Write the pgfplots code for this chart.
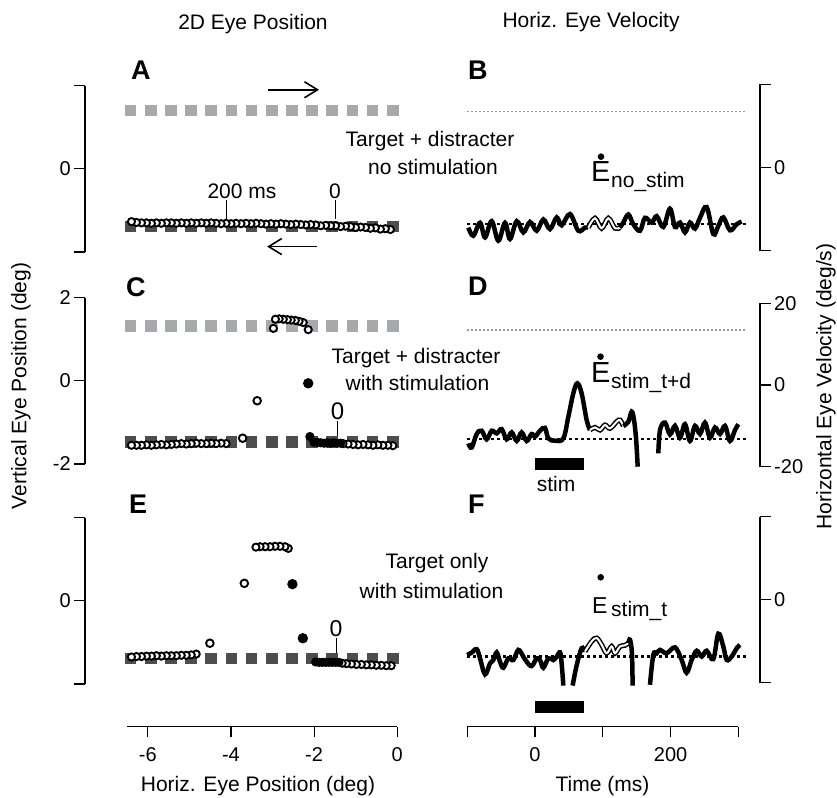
\documentclass[border=0pt]{standalone}
\usepackage{fontspec}
\setmainfont{Liberation Sans}
\usepackage{pgfplots}
\pgfplotsset{compat=1.18}
\usetikzlibrary{arrows.meta}

\definecolor{sqgrey}{HTML}{A7A9AC}
\definecolor{sqdark}{HTML}{4D4D4F}
\definecolor{dotgrey}{HTML}{9A9A9A}

\newcommand{\fs}[1]{\fontsize{#1}{#1}\selectfont}

\pgfplotsset{
 base/.style={scale only axis, clip=false, tick align=outside, major tick length=10.7pt,
   axis line style={line width=1.2pt,-}, tick style={line width=1.2pt, black},
   ticklabel style={font=\fs{20}}},
 posL/.style={base, width=312pt, height=166.4pt, xmin=-7.52, xmax=0, ymin=-2, ymax=2,
   axis y line*=left, axis x line=none, xtick=\empty, ytick={-2,0,2}},
 velR/.style={base, width=292.8pt, xmin=-100, xmax=331.9, ymin=-20, ymax=20,
   axis y line*=right, axis x line=none, xtick=\empty, ytick={-20,0,20}},
 openc/.style={black, only marks, mark=*, mark size=3.6pt, mark options={fill=white, draw=black, line width=1.9pt}},
 fillc/.style={black, only marks, mark=*, mark size=3.6pt, mark options={fill=black, draw=black, line width=1.9pt}},
 sqg/.style={sqgrey, only marks, mark=square*, mark size=5.3pt, mark options={fill=sqgrey, draw=sqgrey, line width=0pt}},
 sqd/.style={sqdark, only marks, mark=square*, mark size=5.3pt, mark options={fill=sqdark, draw=sqdark, line width=0pt}},
 trace/.style={black, line width=4.5pt, smooth, tension=0.6},
 dblo/.style={black, line width=5pt, smooth, tension=0.6},
 dbli/.style={white, line width=2pt, smooth, tension=0.6},
 greydot/.style={dotgrey, line width=1.5pt, dash pattern=on 2pt off 2pt},
 blackdot/.style={black, line width=2.5pt, dash pattern=on 3pt off 3pt},
}

\begin{document}
\begin{tikzpicture}[x=1pt,y=1pt]
\useasboundingbox (0,0) rectangle (837,797);

% ---------------- Panel A ----------------
\begin{axis}[posL, at={(85pt,545pt)}, anchor=south west, yticklabels={,0,}]
\addplot[sqg] coordinates {(-6.42,1.40) (-5.934,1.40) (-5.448,1.40) (-4.962,1.40) (-4.476,1.40) (-3.99,1.40) (-3.504,1.40) (-3.018,1.40) (-2.532,1.40) (-2.046,1.40) (-1.56,1.40) (-1.074,1.40) (-0.588,1.40) (-0.102,1.40)};
\addplot[sqd] coordinates {(-6.42,-1.39) (-5.934,-1.39) (-5.448,-1.39) (-4.962,-1.39) (-4.476,-1.39) (-3.99,-1.39) (-3.504,-1.39) (-3.018,-1.39) (-2.532,-1.39) (-2.046,-1.39) (-1.56,-1.39) (-1.074,-1.39) (-0.588,-1.39) (-0.102,-1.39)};
\addplot[openc] coordinates {(-0.16,-1.46) (-0.28,-1.44) (-0.40,-1.45) (-0.52,-1.42) (-0.64,-1.43) (-0.76,-1.41) (-0.88,-1.40) (-1.00,-1.41) (-1.12,-1.39) (-1.24,-1.38) (-1.36,-1.39) (-1.48,-1.37) (-1.60,-1.37) (-1.72,-1.36) (-1.84,-1.37) (-1.96,-1.35) (-2.08,-1.34) (-2.20,-1.35) (-2.32,-1.34) (-2.44,-1.33) (-2.56,-1.34) (-2.68,-1.33) (-2.80,-1.32) (-2.92,-1.33) (-3.04,-1.32) (-3.16,-1.33) (-3.28,-1.32) (-3.40,-1.31) (-3.52,-1.32) (-3.64,-1.31) (-3.76,-1.32) (-3.88,-1.31) (-4.00,-1.32) (-4.12,-1.31) (-4.24,-1.32) (-4.36,-1.31) (-4.48,-1.30) (-4.60,-1.31) (-4.72,-1.30) (-4.84,-1.31) (-4.96,-1.30) (-5.08,-1.31) (-5.20,-1.30) (-5.32,-1.31) (-5.44,-1.30) (-5.56,-1.30) (-5.68,-1.31) (-5.80,-1.30) (-5.92,-1.31) (-6.04,-1.30) (-6.16,-1.30) (-6.28,-1.29) (-6.40,-1.27)};
\draw[line width=1.6pt, -{Straight Barb[length=13pt,width=16pt,line width=1.6pt]}] (axis cs:-3.11,1.90) -- (axis cs:-1.88,1.90);
\draw[line width=1.6pt, -{Straight Barb[length=13pt,width=16pt,line width=1.6pt]}] (axis cs:-1.93,-1.87) -- (axis cs:-3.13,-1.87);
\draw[line width=1.2pt] (axis cs:-4.10,-0.745) -- (axis cs:-4.10,-1.20);
\draw[line width=1.2pt] (axis cs:-1.49,-0.745) -- (axis cs:-1.49,-1.20);
\end{axis}

% ---------------- Panel C ----------------
\begin{axis}[posL, at={(85pt,333pt)}, anchor=south west, yticklabels={-2,0,2}]
\addplot[sqg] coordinates {(-6.42,1.32) (-5.934,1.32) (-5.448,1.32) (-4.962,1.32) (-4.476,1.32) (-3.99,1.32) (-3.504,1.32) (-3.018,1.32) (-2.532,1.32) (-2.046,1.32) (-1.56,1.32) (-1.074,1.32) (-0.588,1.32) (-0.102,1.32)};
\addplot[sqd] coordinates {(-6.42,-1.47) (-5.934,-1.47) (-5.448,-1.47) (-4.962,-1.47) (-4.476,-1.47) (-3.99,-1.47) (-3.504,-1.47) (-3.018,-1.47) (-2.532,-1.47) (-2.046,-1.47) (-1.56,-1.47) (-1.074,-1.47) (-0.588,-1.47) (-0.102,-1.47)};
\addplot[openc] coordinates {(-0.10,-1.56) (-0.22,-1.55) (-0.34,-1.55) (-0.46,-1.54) (-0.58,-1.55) (-0.70,-1.54) (-0.82,-1.53) (-0.94,-1.54) (-1.06,-1.53) (-1.18,-1.52) (-1.30,-1.51)};
\addplot[fillc] coordinates {(-1.36,-1.50) (-1.44,-1.50) (-1.52,-1.49) (-1.60,-1.50) (-1.68,-1.49) (-1.76,-1.50) (-1.84,-1.49) (-1.92,-1.48) (-2.00,-1.48) (-2.10,-1.34)};
\addplot[fillc, mark size=4.2pt] coordinates {(-2.14,-0.06)};
\addplot[openc] coordinates {(-2.14,1.23) (-2.26,1.40) (-2.36,1.43) (-2.45,1.45) (-2.55,1.46) (-2.64,1.47) (-2.74,1.48) (-2.84,1.49) (-2.93,1.48) (-2.98,1.26)};
\addplot[openc, mark size=3.8pt] coordinates {(-3.37,-0.48) (-3.72,-1.38)};
\addplot[openc] coordinates {(-4.12,-1.51) (-4.24,-1.50) (-4.36,-1.51) (-4.48,-1.50) (-4.60,-1.51) (-4.72,-1.51) (-4.84,-1.50) (-4.96,-1.51) (-5.08,-1.52) (-5.20,-1.51) (-5.32,-1.52) (-5.44,-1.53) (-5.56,-1.54) (-5.68,-1.53) (-5.80,-1.54) (-5.92,-1.55) (-6.04,-1.54) (-6.16,-1.55) (-6.28,-1.55) (-6.40,-1.55)};
\draw[line width=1.2pt] (axis cs:-1.44,-0.976) -- (axis cs:-1.44,-1.40);
\end{axis}

% ---------------- Panel E ----------------
\begin{axis}[posL, at={(85pt,113pt)}, anchor=south west, yticklabels={,0,}]
\addplot[sqd] coordinates {(-6.42,-1.39) (-5.934,-1.39) (-5.448,-1.39) (-4.962,-1.39) (-4.476,-1.39) (-3.99,-1.39) (-3.504,-1.39) (-3.018,-1.39) (-2.532,-1.39) (-2.046,-1.39) (-1.56,-1.39) (-1.074,-1.39) (-0.588,-1.39) (-0.102,-1.39)};
\addplot[openc] coordinates {(-0.14,-1.56) (-0.26,-1.56) (-0.38,-1.55) (-0.50,-1.55) (-0.62,-1.54) (-0.74,-1.54) (-0.86,-1.53) (-0.98,-1.53) (-1.10,-1.52) (-1.22,-1.51) (-1.32,-1.50)};
\addplot[fillc] coordinates {(-1.40,-1.48) (-1.48,-1.48) (-1.56,-1.48) (-1.64,-1.48) (-1.72,-1.48) (-1.80,-1.48) (-1.88,-1.48) (-1.96,-1.47)};
\addplot[fillc, mark size=4.2pt] coordinates {(-2.27,-0.90) (-2.52,0.40)};
\addplot[openc] coordinates {(-2.62,1.26) (-2.70,1.30) (-2.82,1.31) (-2.94,1.31) (-3.06,1.30) (-3.18,1.30) (-3.30,1.30) (-3.40,1.29)};
\addplot[openc, mark size=3.8pt] coordinates {(-3.68,0.42) (-4.51,-1.02)};
\addplot[openc] coordinates {(-4.84,-1.28) (-4.96,-1.30) (-5.08,-1.31) (-5.20,-1.31) (-5.32,-1.32) (-5.44,-1.32) (-5.56,-1.32) (-5.68,-1.33) (-5.80,-1.32) (-5.92,-1.33) (-6.04,-1.33) (-6.16,-1.34) (-6.28,-1.34) (-6.40,-1.35)};
\draw[line width=1.2pt] (axis cs:-1.45,-0.89) -- (axis cs:-1.45,-1.31);
\end{axis}

% ---------------- Bottom axes ----------------
\begin{axis}[base, width=270.3pt, height=10pt, at={(127pt,70.3pt)}, anchor=south west,
  xmin=-6.5, xmax=0, ymin=0, ymax=1, axis x line*=bottom, axis y line=none, ytick=\empty,
  xtick={-6,-4,-2,0}, xticklabels={-6,-4,-2,0}, xticklabel style={yshift=-7pt}]
\addplot[draw=none] coordinates {(-1,0.5)};
\end{axis}
\begin{axis}[base, width=271.2pt, height=10pt, at={(467.2pt,70.3pt)}, anchor=south west,
  xmin=-100, xmax=300, ymin=0, ymax=1, axis x line*=bottom, axis y line=none, ytick=\empty,
  xtick={-100,0,100,200,300}, xticklabels={,0,,200,}, xticklabel style={yshift=-7pt}]
\addplot[draw=none] coordinates {(0,0.5)};
\end{axis}

% ---------------- Panel B ----------------
\begin{axis}[velR, at={(467.2pt,546.3pt)}, anchor=south west, height=166.4pt, yticklabels={,0,}]
\addplot[greydot] coordinates {(-100,13.5) (312,13.5)};
\addplot[blackdot] coordinates {(-100,-13.6) (312,-13.6)};
\addplot[trace] coordinates {(-98.3,-14.45) (-91.0,-16.4) (-81.1,-13.3) (-73.7,-16.8) (-63.9,-12.9) (-54.1,-17.6) (-44.2,-13.3) (-36.9,-17.2) (-27.0,-12.9) (-17.2,-15.6) (-7.4,-13.1) (2.5,-15.2) (12.3,-12.5) (22.1,-14.8) (32.0,-12.0) (39.3,-13.9) (51.6,-11.2) (63.9,-15.2) (73.7,-14.45) (78.7,-14.45)};
\addplot[dblo] coordinates {(78.7,-14.45) (88.5,-12.2) (98.3,-14.6) (108.2,-12.2) (118.0,-14.6) (125.4,-14.45)};
\addplot[dbli] coordinates {(78.7,-14.45) (88.5,-12.2) (98.3,-14.6) (108.2,-12.2) (118.0,-14.6) (125.4,-14.45)};
\addplot[trace] coordinates {(125.4,-14.45) (130.3,-13.23) (137.7,-11.3) (145.0,-13.64) (154.9,-15.2) (162.2,-12.1) (172.1,-13.23) (179.5,-11.7) (189.3,-14.3) (199.1,-9.9) (206.5,-14.3) (213.9,-13.23) (221.2,-15.6) (228.6,-13.23) (236.0,-14.7) (243.4,-12.1) (253.2,-9.5) (263.0,-16.0) (270.4,-14.04) (277.8,-12.0) (287.6,-15.1) (297.4,-13.64) (304.8,-13.0)};
\end{axis}

% ---------------- Panel D ----------------
\begin{axis}[velR, at={(467.2pt,330.3pt)}, anchor=south west, height=163.4pt, yticklabels={-20,0,20}]
\addplot[greydot] coordinates {(-100,13.5) (312,13.5)};
\addplot[blackdot] coordinates {(-100,-13.2) (312,-13.2)};
\addplot[black, fill=black] coordinates {(0,-17.9) (71,-17.9) (71,-20.6) (0,-20.6)} --cycle;
\addplot[trace] coordinates {(-98.3,-14.30) (-93.4,-15.3) (-86.0,-12.0) (-78.7,-11.2) (-71.3,-13.3) (-63.9,-11.2) (-56.5,-11.85) (-49.2,-10.8) (-41.8,-13.3) (-34.4,-11.6) (-27.0,-13.7) (-19.7,-11.6) (-12.3,-13.7) (-4.9,-12.0) (0,-12.66) (7.4,-11.2) (14.7,-10.5) (19.7,-13.07) (29.5,-13.64) (41.8,-13.07) (49.2,-7.76) (56.5,-2.04) (62.4,0.41) (68.8,-2.04) (76.2,-8.58) (81.1,-11.03)};
\addplot[dblo] coordinates {(81.1,-11.03) (88.5,-10.38) (95.9,-11.03) (103.2,-9.80) (110.6,-10.62) (120.5,-8.99) (125.4,-8.58) (130.3,-10.05)};
\addplot[dbli] coordinates {(81.1,-11.03) (88.5,-10.38) (95.9,-11.03) (103.2,-9.80) (110.6,-10.62) (120.5,-8.99) (125.4,-8.58) (130.3,-10.05)};
\addplot[trace] coordinates {(130.3,-10.05) (137.7,-8.99) (142.6,-6.54) (146.0,-8.5) (149.0,-13.0) (151.5,-20.0)};
\addplot[trace] coordinates {(181.9,-16.75) (184.4,-11.03) (191.7,-9.2) (199.1,-12.1) (206.5,-10.0) (213.9,-12.9) (221.2,-9.6) (228.6,-13.7) (236.0,-10.0) (243.4,-12.0) (250.7,-9.2) (258.1,-12.9) (265.5,-10.4) (272.9,-12.0) (280.2,-10.0) (287.6,-13.7) (295.0,-11.03) (299.9,-9.6)};
\end{axis}

% ---------------- Panel F ----------------
\begin{axis}[velR, at={(467.2pt,114.3pt)}, anchor=south west, height=166pt, yticklabels={,0,}]
\addplot[blackdot] coordinates {(-100,-13.7) (312,-13.7)};
\addplot[black, fill=black] coordinates {(0,-24.4) (71,-24.4) (71,-27.0) (0,-27.0)} --cycle;
\addplot[trace] coordinates {(-100,-13.32) (-93.4,-12.75) (-86.0,-11.9) (-81.1,-14.13) (-73.7,-18.0) (-66.4,-15.36) (-61.5,-14.54) (-56.5,-12.7) (-51.6,-14.95) (-46.7,-16.4) (-39.3,-14.13) (-32.0,-14.54) (-24.6,-12.1) (-17.2,-13.73) (-12.3,-14.95) (-4.9,-16.0) (2.5,-14.13) (7.4,-14.54) (12.3,-16.4) (19.7,-14.13) (27.0,-14.54) (32.0,-13.73) (36.9,-12.7) (39.3,-15.36) (41.8,-20.7)};
\addplot[trace] coordinates {(55.5,-20.7) (61.5,-15.8) (68.8,-11.7) (73.7,-12.5)};
\addplot[dblo] coordinates {(73.7,-12.5) (83.6,-10.05) (91.0,-9.24) (98.3,-10.86) (105.7,-12.9) (113.1,-11.27) (118.0,-12.9) (125.4,-11.27) (132.7,-11.0) (137.7,-10.46)};
\addplot[dbli] coordinates {(73.7,-12.5) (83.6,-10.05) (91.0,-9.24) (98.3,-10.86) (105.7,-12.9) (113.1,-11.27) (118.0,-12.9) (125.4,-11.27) (132.7,-11.0) (137.7,-10.46)};
\addplot[trace] coordinates {(137.7,-10.46) (140.1,-9.64) (143.0,-12.9) (144.0,-20.7)};
\addplot[trace] coordinates {(169.6,-20.5) (174.5,-13.3) (179.5,-12.9) (184.4,-12.1) (194.2,-12.9) (206.5,-11.5) (216.3,-14.5) (223.7,-17.6) (231.1,-14.5) (238.5,-12.3) (245.9,-13.7) (253.2,-12.3) (263.0,-14.3) (270.4,-8.2) (277.8,-11.3) (282.7,-14.5) (290.1,-13.7) (297.5,-11.7) (302.4,-10.9)};
\end{axis}

% ---------------- Text ----------------
\node[anchor=base, font=\fs{21}] at (253,767) {2D Eye Position};
\node[anchor=base, font=\fs{21}] at (591,769.5) {Horiz. Eye Velocity};
\node[anchor=base west, inner sep=0pt, font=\bfseries\fs{27}] at (131,717) {A};
\node[anchor=base west, inner sep=0pt, font=\bfseries\fs{27}] at (468,717) {B};
\node[anchor=base west, inner sep=0pt, font=\bfseries\fs{27}] at (126,500.3) {C};
\node[anchor=base west, inner sep=0pt, font=\bfseries\fs{27}] at (468,501) {D};
\node[anchor=base west, inner sep=0pt, font=\bfseries\fs{27}] at (129,283.7) {E};
\node[anchor=base west, inner sep=0pt, font=\bfseries\fs{27}] at (468,283.7) {F};

\node[anchor=base, font=\fs{21}] at (430,650.3) {Target + distracter};
\node[anchor=base, font=\fs{21}] at (433,622) {no stimulation};
\node[anchor=base, font=\fs{21}] at (416,433.7) {Target + distracter};
\node[anchor=base, font=\fs{21}] at (417.5,406.3) {with stimulation};
\node[anchor=base, font=\fs{21}] at (437,228.7) {Target only};
\node[anchor=base, font=\fs{21}] at (431.5,198.7) {with stimulation};

\node[anchor=base, font=\fs{21}] at (242,598.7) {200 ms};
\node[anchor=base, font=\fs{21}] at (335,598.7) {0};
\node[anchor=base, font=\fs{24}] at (337.5,377.7) {0};
\node[anchor=base, font=\fs{23}] at (336,160.3) {0};
\node[anchor=base, font=\fs{21}] at (556,305.3) {stim};

\node[anchor=base west, inner sep=0pt, font=\fs{29}] at (591,615.3) {E};
\node[anchor=base west, inner sep=0pt, font=\fs{21}] at (611,609) {no\_stim};
\fill (601,640.3) circle (3.3);
\node[anchor=base west, inner sep=0pt, font=\fs{29}] at (591,414.3) {E};
\node[anchor=base west, inner sep=0pt, font=\fs{21}] at (611,408.7) {stim\_t+d};
\fill (600.5,440.3) circle (3.3);
\node[anchor=base west, inner sep=0pt, font=\fs{23}] at (592,183.7) {E};
\node[anchor=base west, inner sep=0pt, font=\fs{21}] at (611,180.3) {stim\_t};
\fill (600.7,219.7) circle (3.3);

\node[rotate=90, font=\fs{21}] at (21,411) {Vertical Eye Position (deg)};
\node[rotate=90, font=\fs{21}] at (826,410.5) {Horizontal Eye Velocity (deg/s)};
\node[anchor=base, font=\fs{21}] at (258,5.3) {Horiz. Eye Position (deg)};
\node[anchor=base, font=\fs{21}] at (602.5,5.3) {Time (ms)};
\end{tikzpicture}
\end{document}
